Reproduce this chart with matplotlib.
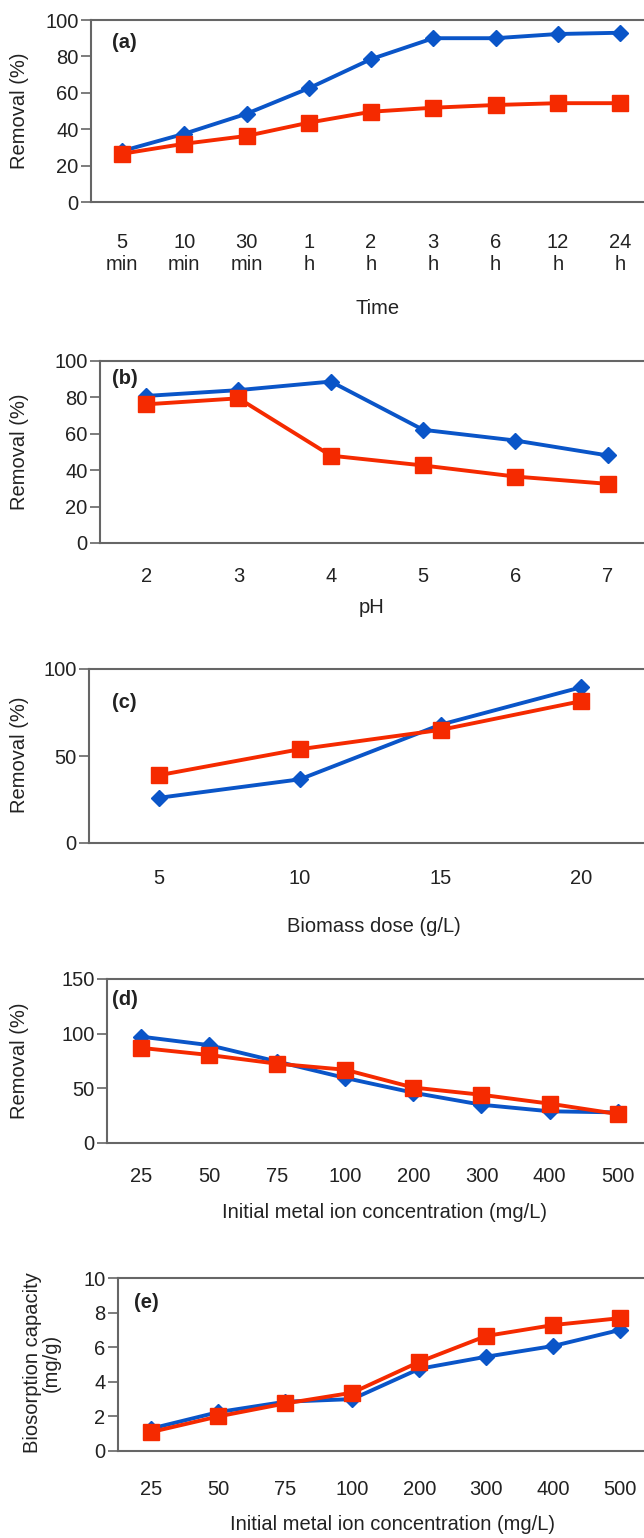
import matplotlib
matplotlib.use("Agg")
import matplotlib.pyplot as plt

plt.rcParams["font.family"] = ["Liberation Sans", "DejaVu Sans"]

# (a) contact time
time_labels = ["5\nmin", "10\nmin", "30\nmin", "1\nh", "2\nh", "3\nh", "6\nh", "12\nh", "24\nh"]
time_blue = [28, 37.5, 48.5, 62.5, 78.5, 90, 90, 92.3, 93]
time_red = [26.5, 32, 36.3, 43.6, 49.6, 51.8, 53.3, 54.3, 54.3]

# (b) pH
ph_vals = [2, 3, 4, 5, 6, 7]
ph_blue = [80.8, 84, 88.7, 62.2, 56.3, 48.1]
ph_red = [76.2, 79.5, 48, 42.6, 36.5, 32.5]

# (c) biomass dose
dose_vals = [5, 10, 15, 20]
dose_blue = [26, 36.6, 68, 89.5]
dose_red = [39, 53.9, 65, 81.5]

# (d) and (e) initial concentration
conc_labels = ["25", "50", "75", "100", "200", "300", "400", "500"]
conc_blue = [97.3, 89.5, 74.5, 59.5, 46, 35, 29, 28]
conc_red = [87, 80.5, 72.5, 67, 50.7, 44.1, 36, 26.5]
cap_blue = [1.3, 2.25, 2.85, 3.0, 4.75, 5.45, 6.07, 7.0]
cap_red = [1.1, 2.0, 2.75, 3.37, 5.15, 6.65, 7.28, 7.68]

W, H = 644, 1538
BLUE = "#0a55c8"
RED = "#f52a00"
SPINE = "#666666"
TXT = "#222222"
FS = 14.5

fig = plt.figure(figsize=(W / 100, H / 100), dpi=100)


def make_axes(left, top, bottom):
    ax = fig.add_axes([left / W, 1 - bottom / H, 1 - left / W, (bottom - top) / H])
    for s in ["left", "bottom", "top"]:
        ax.spines[s].set_color(SPINE)
        ax.spines[s].set_linewidth(1.5)
    ax.spines["right"].set_visible(False)
    ax.tick_params(axis="y", direction="out", length=7, width=1.2, color=SPINE,
                   labelsize=FS, labelcolor=TXT, pad=2)
    ax.tick_params(axis="x", length=0, labelsize=FS, labelcolor=TXT)
    return ax


def draw(ax, x, blue, red):
    ax.plot(x, blue, color=BLUE, lw=2.8, marker="D", ms=8.5, mec=BLUE, zorder=3)
    ax.plot(x, red, color=RED, lw=2.8, marker="s", ms=11, mec=RED, zorder=4)


def labels(ax, xlab, xl_pos, ylab, yl_pos, tag, tag_pos):
    ax.set_xlabel(xlab, fontsize=FS, color=TXT)
    ax.xaxis.set_label_coords(xl_pos[0] / W, 1 - xl_pos[1] / H, transform=fig.transFigure)
    ax.xaxis.label.set_va("center")
    ax.set_ylabel(ylab, fontsize=FS, color=TXT, linespacing=1.0)
    ax.yaxis.set_label_coords(yl_pos[0] / W, 1 - yl_pos[1] / H, transform=fig.transFigure)
    ax.yaxis.label.set_va("center")
    fig.text(tag_pos[0] / W, 1 - tag_pos[1] / H, tag, fontsize=FS, fontweight="bold",
             color=TXT, va="center", ha="left")


# (a)
ax = make_axes(91, 20, 202)
xa = list(range(len(time_labels)))
draw(ax, xa, time_blue, time_red)
ax.set_xticks(xa)
ax.set_xticklabels(time_labels, linespacing=1.2)
ax.tick_params(axis="x", pad=22)
ax.set_xlim(-0.5, (W - 122) / 62.25)
ax.set_ylim(0, 100)
ax.set_yticks(range(0, 101, 20))
labels(ax, "Time", (378, 308), "Removal (%)", (20, 111), "(a)", (112, 43))

# (b)
ax = make_axes(100, 361, 543)
draw(ax, ph_vals, ph_blue, ph_red)
ax.set_xticks(ph_vals)
ax.tick_params(axis="x", pad=17)
ax.set_xlim(1.5, 2 + (W - 145.8) / 92.4)
ax.set_ylim(0, 100)
ax.set_yticks(range(0, 101, 20))
labels(ax, "pH", (372, 608), "Removal (%)", (20, 452), "(b)", (112, 379))

# (c)
ax = make_axes(89, 669, 843)
draw(ax, dose_vals, dose_blue, dose_red)
ax.set_xticks(dose_vals)
ax.tick_params(axis="x", pad=19)
ax.set_xlim(2.5, 5 + (W - 159.3) / 28.12)
ax.set_ylim(0, 100)
ax.set_yticks([0, 50, 100])
labels(ax, "Biomass dose (g/L)", (374, 927), "Removal (%)", (20, 755), "(c)", (112, 703))

# (d)
ax = make_axes(107, 979, 1143)
xd = list(range(len(conc_labels)))
draw(ax, xd, conc_blue, conc_red)
ax.set_xticks(xd)
ax.set_xticklabels(conc_labels)
ax.tick_params(axis="x", pad=17)
ax.set_xlim(-0.5, (W - 141.7) / 68.0)
ax.set_ylim(0, 150)
ax.set_yticks([0, 50, 100, 150])
labels(ax, "Initial metal ion concentration (mg/L)", (384, 1213), "Removal (%)", (20, 1061),
       "(d)", (112, 1000))

# (e)
ax = make_axes(118, 1278, 1451)
draw(ax, xd, cap_blue, cap_red)
ax.set_xticks(xd)
ax.set_xticklabels(conc_labels)
ax.tick_params(axis="x", pad=21)
ax.set_xlim(-0.5, (W - 150.7) / 67.06)
ax.set_ylim(0, 10)
ax.set_yticks(range(0, 11, 2))
labels(ax, "Initial metal ion concentration (mg/L)", (392, 1525),
       "Biosorption capacity\n(mg/g)", (42, 1363), "(e)", (134, 1303))

fig.savefig("out.png", dpi=100)
